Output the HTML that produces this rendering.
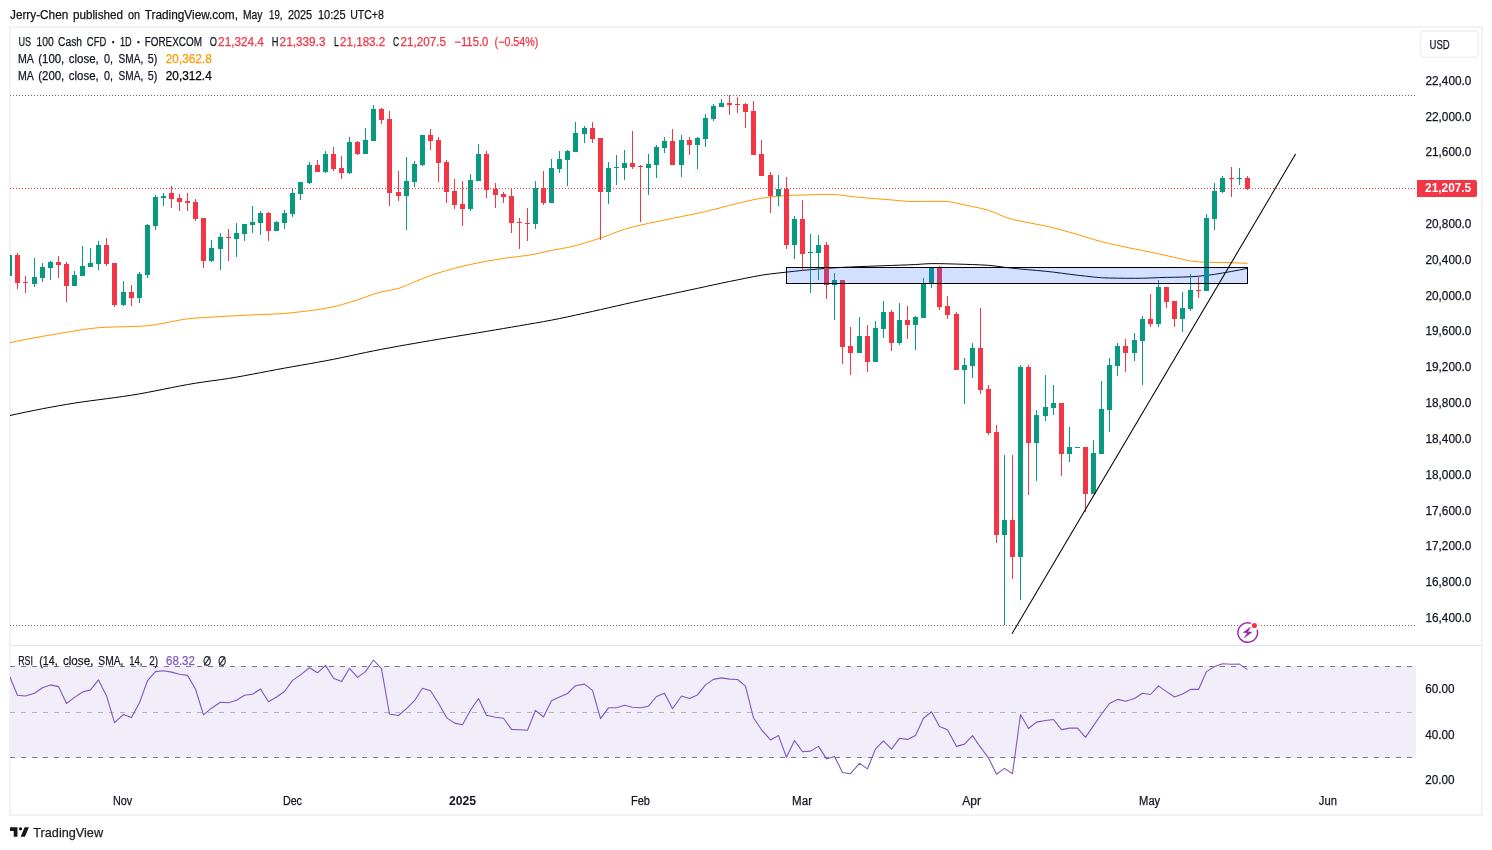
<!DOCTYPE html>
<html lang="en"><head><meta charset="utf-8"><title>US 100 Cash CFD chart</title>
<style>html,body{margin:0;padding:0;background:#fff;overflow:hidden}svg text{white-space:pre}</style></head>
<body>
<svg width="1492" height="850" viewBox="0 0 1492 850" font-family="'Liberation Sans','DejaVu Sans',sans-serif" style="display:block">
<rect width="1492" height="850" fill="#fff"/>
<rect x="10" y="27" width="1472" height="788" fill="none" stroke="#f2f2f3" stroke-width="2"/>
<defs><clipPath id="plot"><rect x="10" y="28" width="1406" height="786"/></clipPath></defs>
<rect x="11" y="645" width="1470" height="1" fill="#e0e3eb"/>
<rect x="10" y="666" width="1406" height="92" fill="#F2EEF9"/>
<line x1="10" y1="666.5" x2="1415" y2="666.5" stroke="#787B86" stroke-width="1" stroke-dasharray="5 6" shape-rendering="crispEdges"/>
<line x1="10" y1="712.5" x2="1415" y2="712.5" stroke="#b4b6bd" stroke-width="1" stroke-dasharray="5 6" shape-rendering="crispEdges"/>
<line x1="10" y1="757.5" x2="1415" y2="757.5" stroke="#787B86" stroke-width="1" stroke-dasharray="5 6" shape-rendering="crispEdges"/>
<polyline points="9.5,676.0 17.5,695.2 25.5,696.0 34.5,693.2 42.5,687.7 50.5,684.9 58.5,686.6 66.5,703.5 74.5,697.4 82.5,692.0 90.5,689.9 98.5,679.9 106.5,695.7 114.5,722.6 123.5,714.5 131.5,717.6 139.5,702.7 147.5,680.7 155.5,671.6 163.5,670.8 171.5,672.1 179.5,674.3 187.5,675.4 195.5,689.0 203.5,714.8 211.5,708.2 220.5,702.3 228.5,702.8 236.5,700.2 244.5,695.2 252.5,694.2 260.5,689.0 268.5,701.8 276.5,697.0 284.5,691.5 292.5,680.4 300.5,674.9 309.5,667.8 317.5,672.8 325.5,665.4 333.5,678.2 341.5,681.6 349.5,668.3 357.5,677.4 365.5,671.6 373.5,660.0 381.5,668.8 389.5,714.0 398.5,715.5 406.5,708.7 414.5,700.7 422.5,688.2 430.5,690.7 438.5,703.2 446.5,717.6 454.5,723.1 462.5,724.8 470.5,710.3 478.5,698.5 486.5,715.3 495.5,717.2 503.5,718.3 511.5,729.4 519.5,729.8 527.5,730.3 535.5,710.3 543.5,717.0 551.5,700.7 559.5,696.9 567.5,693.5 575.5,685.7 584.5,684.1 592.5,690.4 600.5,718.6 608.5,707.8 616.5,707.7 624.5,705.3 632.5,707.3 640.5,707.8 648.5,706.2 656.5,696.5 664.5,693.2 672.5,708.7 681.5,696.0 689.5,698.5 697.5,694.9 705.5,684.9 713.5,679.4 721.5,677.9 729.5,679.1 737.5,679.5 745.5,686.2 753.5,717.8 761.5,729.8 770.5,739.9 778.5,735.6 786.5,757.2 794.5,740.6 802.5,751.7 810.5,751.1 818.5,746.4 826.5,758.9 834.5,756.4 842.5,772.5 850.5,773.7 859.5,763.4 867.5,768.9 875.5,748.9 883.5,740.8 891.5,749.2 899.5,738.3 907.5,739.4 915.5,735.4 923.5,718.2 931.5,711.8 939.5,726.5 947.5,729.8 956.5,746.4 964.5,744.1 972.5,735.6 980.5,747.2 988.5,758.0 996.5,774.3 1004.5,768.4 1012.5,773.7 1020.5,714.5 1028.5,728.5 1036.5,722.1 1045.5,720.5 1053.5,719.5 1061.5,729.6 1069.5,728.1 1077.5,728.1 1085.5,737.4 1093.5,725.6 1101.5,714.0 1109.5,703.5 1117.5,699.4 1125.5,701.2 1134.5,698.5 1142.5,693.2 1150.5,694.5 1158.5,685.9 1166.5,691.6 1174.5,697.0 1182.5,694.0 1190.5,689.4 1198.5,689.4 1206.5,671.6 1214.5,666.6 1222.5,663.8 1231.5,664.2 1239.5,664.1 1247.5,669.6" fill="none" stroke="#7E57C2" stroke-width="1.1" stroke-linejoin="round" clip-path="url(#plot)"/>
<polyline points="10.0,342.60 17.5,341.07 25.5,339.50 34.5,337.80 42.5,336.36 50.5,334.98 58.5,333.67 66.5,332.33 74.5,330.96 82.5,329.66 90.5,328.54 98.5,327.70 106.5,327.23 114.5,326.96 123.5,326.74 131.5,326.54 139.5,326.27 147.5,325.76 155.5,324.70 163.5,323.26 171.5,321.65 179.5,320.11 187.5,318.84 195.5,318.06 203.5,317.59 211.5,317.10 220.5,316.55 228.5,316.08 236.5,315.65 244.5,315.24 252.5,314.86 260.5,314.53 268.5,314.25 276.5,313.93 284.5,313.44 292.5,312.70 300.5,311.79 309.5,310.69 317.5,309.60 325.5,308.33 333.5,306.76 341.5,304.72 349.5,302.37 357.5,299.91 365.5,297.03 373.5,294.13 381.5,291.85 389.5,290.36 398.5,288.42 406.5,285.47 414.5,281.95 422.5,278.64 430.5,275.53 438.5,272.90 446.5,270.51 454.5,268.33 462.5,266.31 470.5,264.44 478.5,262.75 486.5,261.23 495.5,259.68 503.5,258.42 511.5,257.33 519.5,256.38 527.5,255.34 535.5,253.93 543.5,252.16 551.5,250.40 559.5,248.93 567.5,247.48 575.5,245.62 584.5,243.10 592.5,240.61 600.5,238.04 608.5,235.18 616.5,232.11 624.5,229.30 632.5,227.06 640.5,225.12 648.5,223.36 656.5,221.69 664.5,220.01 672.5,218.34 681.5,216.54 689.5,214.95 697.5,213.30 705.5,211.51 713.5,209.54 721.5,207.47 729.5,205.39 737.5,203.39 745.5,201.50 753.5,199.70 761.5,198.27 770.5,196.92 778.5,196.13 786.5,195.64 794.5,195.27 802.5,195.00 810.5,194.77 818.5,194.57 826.5,194.43 834.5,194.45 842.5,195.31 850.5,196.48 859.5,197.35 867.5,198.04 875.5,198.68 883.5,199.29 891.5,199.92 899.5,200.70 907.5,201.35 915.5,201.50 923.5,201.45 931.5,201.37 939.5,201.32 947.5,201.40 956.5,203.00 964.5,204.90 972.5,206.50 980.5,208.21 988.5,210.30 996.5,213.41 1004.5,216.87 1012.5,219.39 1020.5,221.10 1028.5,222.71 1036.5,224.24 1045.5,226.02 1053.5,227.83 1061.5,229.93 1069.5,232.18 1077.5,234.48 1085.5,236.95 1093.5,239.42 1101.5,241.64 1109.5,243.58 1117.5,245.38 1125.5,247.11 1134.5,248.93 1142.5,250.49 1150.5,252.10 1158.5,253.84 1166.5,255.62 1174.5,257.39 1182.5,259.30 1190.5,260.98 1198.5,261.87 1206.5,262.28 1214.5,262.38 1222.5,262.46 1231.5,262.67 1239.5,262.99 1247.5,263.40" fill="none" stroke="#FF9800" stroke-width="1.0" stroke-linejoin="round"/>
<polyline points="10.0,415.50 17.5,413.87 25.5,412.17 34.5,410.33 42.5,408.76 50.5,407.24 58.5,405.79 66.5,404.41 74.5,403.11 82.5,401.92 90.5,400.81 98.5,399.75 106.5,398.71 114.5,397.65 123.5,396.40 131.5,395.19 139.5,393.85 147.5,392.39 155.5,390.83 163.5,389.23 171.5,387.63 179.5,386.06 187.5,384.57 195.5,383.20 203.5,381.98 211.5,380.87 220.5,379.63 228.5,378.44 236.5,377.11 244.5,375.68 252.5,374.18 260.5,372.65 268.5,371.11 276.5,369.60 284.5,368.14 292.5,366.71 300.5,365.30 309.5,363.72 317.5,362.28 325.5,360.81 333.5,359.27 341.5,357.64 349.5,355.95 357.5,354.23 365.5,352.53 373.5,350.88 381.5,349.31 389.5,347.82 398.5,346.18 406.5,344.76 414.5,343.36 422.5,341.99 430.5,340.61 438.5,339.26 446.5,337.94 454.5,336.63 462.5,335.33 470.5,334.02 478.5,332.70 486.5,331.36 495.5,329.85 503.5,328.50 511.5,327.14 519.5,325.77 527.5,324.38 535.5,323.00 543.5,321.61 551.5,320.14 559.5,318.56 567.5,316.88 575.5,315.14 584.5,313.16 592.5,311.40 600.5,309.62 608.5,307.81 616.5,305.99 624.5,304.17 632.5,302.37 640.5,300.59 648.5,298.84 656.5,297.11 664.5,295.39 672.5,293.68 681.5,291.76 689.5,290.06 697.5,288.34 705.5,286.61 713.5,284.88 721.5,283.17 729.5,281.49 737.5,279.86 745.5,278.26 753.5,276.66 761.5,275.21 770.5,273.93 778.5,272.99 786.5,272.12 794.5,271.26 802.5,270.42 810.5,269.64 818.5,268.97 826.5,268.35 834.5,267.81 842.5,267.37 850.5,266.99 859.5,266.62 867.5,266.31 875.5,266.02 883.5,265.74 891.5,265.45 899.5,265.17 907.5,264.90 915.5,264.54 923.5,263.97 931.5,263.61 939.5,263.65 947.5,263.82 956.5,264.07 964.5,264.31 972.5,264.56 980.5,264.88 988.5,265.32 996.5,266.18 1004.5,267.31 1012.5,268.26 1020.5,269.03 1028.5,269.74 1036.5,270.44 1045.5,271.28 1053.5,272.15 1061.5,273.17 1069.5,274.24 1077.5,275.23 1085.5,276.11 1093.5,277.02 1101.5,277.74 1109.5,278.04 1117.5,278.16 1125.5,278.25 1134.5,278.30 1142.5,278.24 1150.5,277.97 1158.5,277.63 1166.5,277.40 1174.5,277.24 1182.5,277.06 1190.5,276.76 1198.5,276.19 1206.5,275.41 1214.5,274.37 1222.5,273.03 1231.5,271.45 1239.5,269.94 1247.5,268.30" fill="none" stroke="#000000" stroke-width="1.0" stroke-linejoin="round"/>
<g clip-path="url(#plot)" shape-rendering="crispEdges"><rect x="9" y="255" width="1" height="21" fill="#089981"/><rect x="7" y="255" width="5" height="21" fill="#089981"/><rect x="17" y="253" width="1" height="36" fill="#F23645"/><rect x="15" y="255" width="5" height="28" fill="#F23645"/><rect x="25" y="276" width="1" height="17" fill="#F23645"/><rect x="23" y="282" width="5" height="1" fill="#F23645"/><rect x="34" y="258" width="1" height="29" fill="#089981"/><rect x="32" y="277" width="5" height="7" fill="#089981"/><rect x="42" y="263" width="1" height="19" fill="#089981"/><rect x="40" y="267" width="5" height="11" fill="#089981"/><rect x="50" y="261" width="1" height="19" fill="#089981"/><rect x="48" y="262" width="5" height="6" fill="#089981"/><rect x="58" y="256" width="1" height="22" fill="#F23645"/><rect x="56" y="262" width="5" height="3" fill="#F23645"/><rect x="66" y="262" width="1" height="40" fill="#F23645"/><rect x="64" y="264" width="5" height="22" fill="#F23645"/><rect x="74" y="271" width="1" height="15" fill="#089981"/><rect x="72" y="275" width="5" height="11" fill="#089981"/><rect x="82" y="246" width="1" height="30" fill="#089981"/><rect x="80" y="266" width="5" height="10" fill="#089981"/><rect x="90" y="248" width="1" height="19" fill="#089981"/><rect x="88" y="263" width="5" height="4" fill="#089981"/><rect x="98" y="241" width="1" height="29" fill="#089981"/><rect x="96" y="245" width="5" height="19" fill="#089981"/><rect x="106" y="238" width="1" height="28" fill="#F23645"/><rect x="104" y="245" width="5" height="19" fill="#F23645"/><rect x="114" y="263" width="1" height="44" fill="#F23645"/><rect x="112" y="263" width="5" height="42" fill="#F23645"/><rect x="123" y="281" width="1" height="25" fill="#089981"/><rect x="121" y="292" width="5" height="13" fill="#089981"/><rect x="131" y="285" width="1" height="21" fill="#F23645"/><rect x="129" y="292" width="5" height="6" fill="#F23645"/><rect x="139" y="272" width="1" height="31" fill="#089981"/><rect x="137" y="274" width="5" height="24" fill="#089981"/><rect x="147" y="224" width="1" height="54" fill="#089981"/><rect x="145" y="225" width="5" height="50" fill="#089981"/><rect x="155" y="195" width="1" height="35" fill="#089981"/><rect x="153" y="197" width="5" height="29" fill="#089981"/><rect x="163" y="193" width="1" height="13" fill="#089981"/><rect x="161" y="196" width="5" height="2" fill="#089981"/><rect x="171" y="186" width="1" height="22" fill="#F23645"/><rect x="169" y="193" width="5" height="6" fill="#F23645"/><rect x="179" y="194" width="1" height="17" fill="#F23645"/><rect x="177" y="198" width="5" height="4" fill="#F23645"/><rect x="187" y="193" width="1" height="18" fill="#F23645"/><rect x="185" y="201" width="5" height="2" fill="#F23645"/><rect x="195" y="199" width="1" height="22" fill="#F23645"/><rect x="193" y="202" width="5" height="17" fill="#F23645"/><rect x="203" y="218" width="1" height="50" fill="#F23645"/><rect x="201" y="218" width="5" height="43" fill="#F23645"/><rect x="211" y="240" width="1" height="22" fill="#089981"/><rect x="209" y="248" width="5" height="13" fill="#089981"/><rect x="220" y="233" width="1" height="37" fill="#089981"/><rect x="218" y="237" width="5" height="12" fill="#089981"/><rect x="228" y="229" width="1" height="32" fill="#F23645"/><rect x="226" y="237" width="5" height="1" fill="#F23645"/><rect x="236" y="223" width="1" height="34" fill="#089981"/><rect x="234" y="233" width="5" height="6" fill="#089981"/><rect x="244" y="224" width="1" height="17" fill="#089981"/><rect x="242" y="224" width="5" height="10" fill="#089981"/><rect x="252" y="206" width="1" height="27" fill="#089981"/><rect x="250" y="222" width="5" height="3" fill="#089981"/><rect x="260" y="211" width="1" height="24" fill="#089981"/><rect x="258" y="213" width="5" height="10" fill="#089981"/><rect x="268" y="212" width="1" height="29" fill="#F23645"/><rect x="266" y="213" width="5" height="18" fill="#F23645"/><rect x="276" y="221" width="1" height="10" fill="#089981"/><rect x="274" y="222" width="5" height="9" fill="#089981"/><rect x="284" y="210" width="1" height="19" fill="#089981"/><rect x="282" y="213" width="5" height="10" fill="#089981"/><rect x="292" y="188" width="1" height="29" fill="#089981"/><rect x="290" y="193" width="5" height="21" fill="#089981"/><rect x="300" y="182" width="1" height="18" fill="#089981"/><rect x="298" y="182" width="5" height="12" fill="#089981"/><rect x="309" y="162" width="1" height="22" fill="#089981"/><rect x="307" y="165" width="5" height="18" fill="#089981"/><rect x="317" y="160" width="1" height="12" fill="#F23645"/><rect x="315" y="165" width="5" height="7" fill="#F23645"/><rect x="325" y="151" width="1" height="22" fill="#089981"/><rect x="323" y="154" width="5" height="18" fill="#089981"/><rect x="333" y="147" width="1" height="24" fill="#F23645"/><rect x="331" y="154" width="5" height="15" fill="#F23645"/><rect x="341" y="156" width="1" height="23" fill="#F23645"/><rect x="339" y="168" width="5" height="5" fill="#F23645"/><rect x="349" y="137" width="1" height="37" fill="#089981"/><rect x="347" y="142" width="5" height="31" fill="#089981"/><rect x="357" y="141" width="1" height="14" fill="#F23645"/><rect x="355" y="142" width="5" height="12" fill="#F23645"/><rect x="365" y="128" width="1" height="26" fill="#089981"/><rect x="363" y="140" width="5" height="14" fill="#089981"/><rect x="373" y="105" width="1" height="36" fill="#089981"/><rect x="371" y="109" width="5" height="32" fill="#089981"/><rect x="381" y="108" width="1" height="16" fill="#F23645"/><rect x="379" y="109" width="5" height="11" fill="#F23645"/><rect x="389" y="111" width="1" height="95" fill="#F23645"/><rect x="387" y="119" width="5" height="74" fill="#F23645"/><rect x="398" y="171" width="1" height="30" fill="#F23645"/><rect x="396" y="192" width="5" height="4" fill="#F23645"/><rect x="406" y="157" width="1" height="73" fill="#089981"/><rect x="404" y="181" width="5" height="15" fill="#089981"/><rect x="414" y="161" width="1" height="26" fill="#089981"/><rect x="412" y="164" width="5" height="18" fill="#089981"/><rect x="422" y="135" width="1" height="31" fill="#089981"/><rect x="420" y="135" width="5" height="30" fill="#089981"/><rect x="430" y="129" width="1" height="21" fill="#F23645"/><rect x="428" y="135" width="5" height="6" fill="#F23645"/><rect x="438" y="137" width="1" height="45" fill="#F23645"/><rect x="436" y="140" width="5" height="23" fill="#F23645"/><rect x="446" y="160" width="1" height="43" fill="#F23645"/><rect x="444" y="162" width="5" height="30" fill="#F23645"/><rect x="454" y="179" width="1" height="30" fill="#F23645"/><rect x="452" y="191" width="5" height="14" fill="#F23645"/><rect x="462" y="181" width="1" height="45" fill="#F23645"/><rect x="460" y="204" width="5" height="5" fill="#F23645"/><rect x="470" y="174" width="1" height="37" fill="#089981"/><rect x="468" y="180" width="5" height="29" fill="#089981"/><rect x="478" y="144" width="1" height="37" fill="#089981"/><rect x="476" y="154" width="5" height="27" fill="#089981"/><rect x="486" y="151" width="1" height="47" fill="#F23645"/><rect x="484" y="154" width="5" height="36" fill="#F23645"/><rect x="495" y="183" width="1" height="25" fill="#F23645"/><rect x="493" y="189" width="5" height="6" fill="#F23645"/><rect x="503" y="192" width="1" height="11" fill="#F23645"/><rect x="501" y="194" width="5" height="3" fill="#F23645"/><rect x="511" y="188" width="1" height="45" fill="#F23645"/><rect x="509" y="196" width="5" height="27" fill="#F23645"/><rect x="519" y="218" width="1" height="31" fill="#F23645"/><rect x="517" y="222" width="5" height="1" fill="#F23645"/><rect x="527" y="208" width="1" height="33" fill="#F23645"/><rect x="525" y="223" width="5" height="1" fill="#F23645"/><rect x="535" y="181" width="1" height="48" fill="#089981"/><rect x="533" y="188" width="5" height="36" fill="#089981"/><rect x="543" y="171" width="1" height="34" fill="#F23645"/><rect x="541" y="188" width="5" height="15" fill="#F23645"/><rect x="551" y="159" width="1" height="44" fill="#089981"/><rect x="549" y="168" width="5" height="35" fill="#089981"/><rect x="559" y="151" width="1" height="22" fill="#089981"/><rect x="557" y="159" width="5" height="10" fill="#089981"/><rect x="567" y="150" width="1" height="36" fill="#089981"/><rect x="565" y="151" width="5" height="9" fill="#089981"/><rect x="575" y="122" width="1" height="30" fill="#089981"/><rect x="573" y="133" width="5" height="19" fill="#089981"/><rect x="584" y="126" width="1" height="17" fill="#089981"/><rect x="582" y="128" width="5" height="6" fill="#089981"/><rect x="592" y="122" width="1" height="21" fill="#F23645"/><rect x="590" y="128" width="5" height="11" fill="#F23645"/><rect x="600" y="138" width="1" height="102" fill="#F23645"/><rect x="598" y="138" width="5" height="54" fill="#F23645"/><rect x="608" y="162" width="1" height="42" fill="#089981"/><rect x="606" y="168" width="5" height="24" fill="#089981"/><rect x="616" y="155" width="1" height="30" fill="#089981"/><rect x="614" y="167" width="5" height="1" fill="#089981"/><rect x="624" y="150" width="1" height="30" fill="#089981"/><rect x="622" y="163" width="5" height="5" fill="#089981"/><rect x="632" y="131" width="1" height="38" fill="#F23645"/><rect x="630" y="163" width="5" height="4" fill="#F23645"/><rect x="640" y="165" width="1" height="57" fill="#F23645"/><rect x="638" y="166" width="5" height="1" fill="#F23645"/><rect x="648" y="154" width="1" height="41" fill="#089981"/><rect x="646" y="164" width="5" height="4" fill="#089981"/><rect x="656" y="145" width="1" height="33" fill="#089981"/><rect x="654" y="147" width="5" height="18" fill="#089981"/><rect x="664" y="137" width="1" height="16" fill="#089981"/><rect x="662" y="141" width="5" height="7" fill="#089981"/><rect x="672" y="129" width="1" height="36" fill="#F23645"/><rect x="670" y="141" width="5" height="24" fill="#F23645"/><rect x="681" y="135" width="1" height="42" fill="#089981"/><rect x="679" y="140" width="5" height="25" fill="#089981"/><rect x="689" y="137" width="1" height="18" fill="#F23645"/><rect x="687" y="140" width="5" height="5" fill="#F23645"/><rect x="697" y="137" width="1" height="32" fill="#089981"/><rect x="695" y="138" width="5" height="7" fill="#089981"/><rect x="705" y="114" width="1" height="33" fill="#089981"/><rect x="703" y="118" width="5" height="21" fill="#089981"/><rect x="713" y="104" width="1" height="17" fill="#089981"/><rect x="711" y="106" width="5" height="13" fill="#089981"/><rect x="721" y="99" width="1" height="8" fill="#089981"/><rect x="719" y="103" width="5" height="4" fill="#089981"/><rect x="729" y="95" width="1" height="20" fill="#F23645"/><rect x="727" y="103" width="5" height="2" fill="#F23645"/><rect x="737" y="97" width="1" height="16" fill="#F23645"/><rect x="735" y="104" width="5" height="1" fill="#F23645"/><rect x="745" y="103" width="1" height="25" fill="#F23645"/><rect x="743" y="104" width="5" height="8" fill="#F23645"/><rect x="753" y="101" width="1" height="54" fill="#F23645"/><rect x="751" y="111" width="5" height="44" fill="#F23645"/><rect x="761" y="140" width="1" height="36" fill="#F23645"/><rect x="759" y="154" width="5" height="22" fill="#F23645"/><rect x="770" y="172" width="1" height="41" fill="#F23645"/><rect x="768" y="175" width="5" height="21" fill="#F23645"/><rect x="778" y="175" width="1" height="31" fill="#089981"/><rect x="776" y="189" width="5" height="7" fill="#089981"/><rect x="786" y="177" width="1" height="72" fill="#F23645"/><rect x="784" y="189" width="5" height="56" fill="#F23645"/><rect x="794" y="216" width="1" height="43" fill="#089981"/><rect x="792" y="219" width="5" height="26" fill="#089981"/><rect x="802" y="200" width="1" height="71" fill="#F23645"/><rect x="800" y="219" width="5" height="35" fill="#F23645"/><rect x="810" y="234" width="1" height="59" fill="#089981"/><rect x="808" y="252" width="5" height="1" fill="#089981"/><rect x="818" y="235" width="1" height="45" fill="#089981"/><rect x="816" y="245" width="5" height="8" fill="#089981"/><rect x="826" y="242" width="1" height="57" fill="#F23645"/><rect x="824" y="245" width="5" height="40" fill="#F23645"/><rect x="834" y="273" width="1" height="47" fill="#089981"/><rect x="832" y="280" width="5" height="5" fill="#089981"/><rect x="842" y="280" width="1" height="84" fill="#F23645"/><rect x="840" y="280" width="5" height="67" fill="#F23645"/><rect x="850" y="327" width="1" height="48" fill="#F23645"/><rect x="848" y="346" width="5" height="7" fill="#F23645"/><rect x="859" y="317" width="1" height="36" fill="#089981"/><rect x="857" y="336" width="5" height="17" fill="#089981"/><rect x="867" y="325" width="1" height="47" fill="#F23645"/><rect x="865" y="336" width="5" height="26" fill="#F23645"/><rect x="875" y="321" width="1" height="41" fill="#089981"/><rect x="873" y="328" width="5" height="34" fill="#089981"/><rect x="883" y="301" width="1" height="37" fill="#089981"/><rect x="881" y="312" width="5" height="17" fill="#089981"/><rect x="891" y="310" width="1" height="41" fill="#F23645"/><rect x="889" y="312" width="5" height="31" fill="#F23645"/><rect x="899" y="303" width="1" height="42" fill="#089981"/><rect x="897" y="320" width="5" height="23" fill="#089981"/><rect x="907" y="306" width="1" height="33" fill="#F23645"/><rect x="905" y="320" width="5" height="5" fill="#F23645"/><rect x="915" y="316" width="1" height="34" fill="#089981"/><rect x="913" y="317" width="5" height="8" fill="#089981"/><rect x="923" y="278" width="1" height="40" fill="#089981"/><rect x="921" y="284" width="5" height="34" fill="#089981"/><rect x="931" y="267" width="1" height="21" fill="#089981"/><rect x="929" y="268" width="5" height="15" fill="#089981"/><rect x="939" y="266" width="1" height="44" fill="#F23645"/><rect x="937" y="268" width="5" height="39" fill="#F23645"/><rect x="947" y="296" width="1" height="23" fill="#F23645"/><rect x="945" y="306" width="5" height="9" fill="#F23645"/><rect x="956" y="312" width="1" height="58" fill="#F23645"/><rect x="954" y="314" width="5" height="56" fill="#F23645"/><rect x="964" y="358" width="1" height="46" fill="#089981"/><rect x="962" y="365" width="5" height="5" fill="#089981"/><rect x="972" y="343" width="1" height="35" fill="#089981"/><rect x="970" y="348" width="5" height="18" fill="#089981"/><rect x="980" y="308" width="1" height="86" fill="#F23645"/><rect x="978" y="348" width="5" height="42" fill="#F23645"/><rect x="988" y="385" width="1" height="50" fill="#F23645"/><rect x="986" y="389" width="5" height="44" fill="#F23645"/><rect x="996" y="425" width="1" height="118" fill="#F23645"/><rect x="994" y="432" width="5" height="103" fill="#F23645"/><rect x="1004" y="455" width="1" height="170" fill="#089981"/><rect x="1002" y="520" width="5" height="15" fill="#089981"/><rect x="1012" y="455" width="1" height="124" fill="#F23645"/><rect x="1010" y="520" width="5" height="37" fill="#F23645"/><rect x="1020" y="365" width="1" height="235" fill="#089981"/><rect x="1018" y="367" width="5" height="190" fill="#089981"/><rect x="1028" y="365" width="1" height="130" fill="#F23645"/><rect x="1026" y="367" width="5" height="76" fill="#F23645"/><rect x="1036" y="410" width="1" height="71" fill="#089981"/><rect x="1034" y="415" width="5" height="28" fill="#089981"/><rect x="1045" y="375" width="1" height="46" fill="#089981"/><rect x="1043" y="407" width="5" height="9" fill="#089981"/><rect x="1053" y="385" width="1" height="30" fill="#089981"/><rect x="1051" y="403" width="5" height="5" fill="#089981"/><rect x="1061" y="403" width="1" height="73" fill="#F23645"/><rect x="1059" y="403" width="5" height="51" fill="#F23645"/><rect x="1069" y="427" width="1" height="35" fill="#089981"/><rect x="1067" y="447" width="5" height="7" fill="#089981"/><rect x="1077" y="447" width="1" height="1" fill="#089981"/><rect x="1075" y="447" width="5" height="1" fill="#089981"/><rect x="1085" y="447" width="1" height="65" fill="#F23645"/><rect x="1083" y="447" width="5" height="47" fill="#F23645"/><rect x="1093" y="440" width="1" height="54" fill="#089981"/><rect x="1091" y="453" width="5" height="41" fill="#089981"/><rect x="1101" y="381" width="1" height="73" fill="#089981"/><rect x="1099" y="409" width="5" height="45" fill="#089981"/><rect x="1109" y="358" width="1" height="74" fill="#089981"/><rect x="1107" y="365" width="5" height="45" fill="#089981"/><rect x="1117" y="343" width="1" height="33" fill="#089981"/><rect x="1115" y="346" width="5" height="20" fill="#089981"/><rect x="1125" y="339" width="1" height="33" fill="#F23645"/><rect x="1123" y="346" width="5" height="7" fill="#F23645"/><rect x="1134" y="333" width="1" height="28" fill="#089981"/><rect x="1132" y="340" width="5" height="13" fill="#089981"/><rect x="1142" y="316" width="1" height="69" fill="#089981"/><rect x="1140" y="319" width="5" height="22" fill="#089981"/><rect x="1150" y="294" width="1" height="33" fill="#F23645"/><rect x="1148" y="319" width="5" height="5" fill="#F23645"/><rect x="1158" y="280" width="1" height="47" fill="#089981"/><rect x="1156" y="287" width="5" height="37" fill="#089981"/><rect x="1166" y="287" width="1" height="21" fill="#F23645"/><rect x="1164" y="287" width="5" height="15" fill="#F23645"/><rect x="1174" y="301" width="1" height="26" fill="#F23645"/><rect x="1172" y="301" width="5" height="18" fill="#F23645"/><rect x="1182" y="292" width="1" height="40" fill="#089981"/><rect x="1180" y="308" width="5" height="11" fill="#089981"/><rect x="1190" y="274" width="1" height="37" fill="#089981"/><rect x="1188" y="290" width="5" height="19" fill="#089981"/><rect x="1198" y="277" width="1" height="21" fill="#F23645"/><rect x="1196" y="290" width="5" height="1" fill="#F23645"/><rect x="1206" y="214" width="1" height="77" fill="#089981"/><rect x="1204" y="218" width="5" height="73" fill="#089981"/><rect x="1214" y="183" width="1" height="47" fill="#089981"/><rect x="1212" y="191" width="5" height="28" fill="#089981"/><rect x="1222" y="176" width="1" height="17" fill="#089981"/><rect x="1220" y="178" width="5" height="14" fill="#089981"/><rect x="1231" y="167" width="1" height="30" fill="#F23645"/><rect x="1229" y="178" width="5" height="1" fill="#F23645"/><rect x="1239" y="168" width="1" height="17" fill="#089981"/><rect x="1237" y="178" width="5" height="1" fill="#089981"/><rect x="1247" y="176" width="1" height="14" fill="#F23645"/><rect x="1245" y="178" width="5" height="11" fill="#F23645"/></g>
<line x1="10" y1="95.5" x2="1416" y2="95.5" stroke="#707070" stroke-width="1" stroke-dasharray="1 2" shape-rendering="crispEdges"/>
<line x1="10" y1="625.5" x2="1416" y2="625.5" stroke="#707070" stroke-width="1" stroke-dasharray="1 2" shape-rendering="crispEdges"/>
<line x1="10" y1="188.5" x2="1416" y2="188.5" stroke="#F23645" stroke-width="1" stroke-dasharray="1 2" shape-rendering="crispEdges"/>
<rect x="786.5" y="267.5" width="461" height="16" fill="rgba(41,98,255,0.2)" stroke="#000" stroke-width="1"/>
<line x1="1012" y1="633.7" x2="1295.6" y2="154" stroke="#000" stroke-width="1.05"/>
<rect x="1238" y="621.5" width="20.7" height="22" rx="5" fill="#fff"/>
<g fill="none" stroke="#9C27B0" stroke-width="1.45" stroke-linecap="round"><path d="M1250.6,623.15 A9.8,9.8 0 1 0 1257.25,630.3"/></g>
<path d="M1250.5,627.1 L1243.2,632.5 L1247.4,633 L1244.2,637.9 L1251.8,632.25 L1247.8,631.75 Z" fill="#9C27B0" stroke="#9C27B0" stroke-width="0.5" stroke-linejoin="round"/>
<circle cx="1254.4" cy="625.5" r="2.55" fill="#F23645"/>
<path d="M1417,180 h58 a2,2 0 0 1 2,2 v13 a2,2 0 0 1 -2,2 h-58 z" fill="#F23645"/>
<text x="1425.10" y="192.00" font-size="12.3" fill="#fff" stroke="#fff" stroke-width="0" font-weight="700" textLength="46.10" lengthAdjust="spacingAndGlyphs">21,207.5</text>
<rect x="1420.3" y="30.9" width="57.9" height="26.3" rx="4.2" fill="#fff" stroke="#f1f1f3" stroke-width="1.6"/>
<text x="1429.60" y="48.70" font-size="11.9" fill="#131722" stroke="#131722" stroke-width="0.25" textLength="20.10" lengthAdjust="spacingAndGlyphs">USD</text>
<text x="1425.40" y="85.00" font-size="12.3" fill="#131722" stroke="#131722" stroke-width="0.25" textLength="46.00" lengthAdjust="spacingAndGlyphs">22,400.0</text>
<text x="1425.40" y="121.00" font-size="12.3" fill="#131722" stroke="#131722" stroke-width="0.25" textLength="46.00" lengthAdjust="spacingAndGlyphs">22,000.0</text>
<text x="1425.40" y="156.00" font-size="12.3" fill="#131722" stroke="#131722" stroke-width="0.25" textLength="46.00" lengthAdjust="spacingAndGlyphs">21,600.0</text>
<text x="1425.40" y="228.00" font-size="12.3" fill="#131722" stroke="#131722" stroke-width="0.25" textLength="46.00" lengthAdjust="spacingAndGlyphs">20,800.0</text>
<text x="1425.40" y="264.00" font-size="12.3" fill="#131722" stroke="#131722" stroke-width="0.25" textLength="46.00" lengthAdjust="spacingAndGlyphs">20,400.0</text>
<text x="1425.40" y="300.00" font-size="12.3" fill="#131722" stroke="#131722" stroke-width="0.25" textLength="46.00" lengthAdjust="spacingAndGlyphs">20,000.0</text>
<text x="1425.40" y="335.00" font-size="12.3" fill="#131722" stroke="#131722" stroke-width="0.25" textLength="46.00" lengthAdjust="spacingAndGlyphs">19,600.0</text>
<text x="1425.40" y="371.00" font-size="12.3" fill="#131722" stroke="#131722" stroke-width="0.25" textLength="46.00" lengthAdjust="spacingAndGlyphs">19,200.0</text>
<text x="1425.40" y="407.00" font-size="12.3" fill="#131722" stroke="#131722" stroke-width="0.25" textLength="46.00" lengthAdjust="spacingAndGlyphs">18,800.0</text>
<text x="1425.40" y="443.00" font-size="12.3" fill="#131722" stroke="#131722" stroke-width="0.25" textLength="46.00" lengthAdjust="spacingAndGlyphs">18,400.0</text>
<text x="1425.40" y="479.00" font-size="12.3" fill="#131722" stroke="#131722" stroke-width="0.25" textLength="46.00" lengthAdjust="spacingAndGlyphs">18,000.0</text>
<text x="1425.40" y="515.00" font-size="12.3" fill="#131722" stroke="#131722" stroke-width="0.25" textLength="46.00" lengthAdjust="spacingAndGlyphs">17,600.0</text>
<text x="1425.40" y="550.00" font-size="12.3" fill="#131722" stroke="#131722" stroke-width="0.25" textLength="46.00" lengthAdjust="spacingAndGlyphs">17,200.0</text>
<text x="1425.40" y="586.00" font-size="12.3" fill="#131722" stroke="#131722" stroke-width="0.25" textLength="46.00" lengthAdjust="spacingAndGlyphs">16,800.0</text>
<text x="1425.40" y="622.00" font-size="12.3" fill="#131722" stroke="#131722" stroke-width="0.25" textLength="46.00" lengthAdjust="spacingAndGlyphs">16,400.0</text>
<text x="1425.20" y="693.00" font-size="12.3" fill="#131722" stroke="#131722" stroke-width="0.25" textLength="29.31" lengthAdjust="spacingAndGlyphs">60.00</text>
<text x="1425.20" y="739.00" font-size="12.3" fill="#131722" stroke="#131722" stroke-width="0.25" textLength="29.31" lengthAdjust="spacingAndGlyphs">40.00</text>
<text x="1425.20" y="784.40" font-size="12.3" fill="#131722" stroke="#131722" stroke-width="0.25" textLength="29.31" lengthAdjust="spacingAndGlyphs">20.00</text>
<text x="112.90" y="805.00" font-size="12.3" fill="#131722" stroke="#131722" stroke-width="0.25" textLength="19.30" lengthAdjust="spacingAndGlyphs">Nov</text>
<text x="282.90" y="805.00" font-size="12.3" fill="#131722" stroke="#131722" stroke-width="0.25" textLength="19.10" lengthAdjust="spacingAndGlyphs">Dec</text>
<text x="448.90" y="805.00" font-size="12.3" fill="#131722" stroke="#131722" stroke-width="0" font-weight="700" textLength="27.10" lengthAdjust="spacingAndGlyphs">2025</text>
<text x="630.90" y="805.00" font-size="12.3" fill="#131722" stroke="#131722" stroke-width="0.25" textLength="19.10" lengthAdjust="spacingAndGlyphs">Feb</text>
<text x="792.10" y="805.00" font-size="12.3" fill="#131722" stroke="#131722" stroke-width="0.25" textLength="19.90" lengthAdjust="spacingAndGlyphs">Mar</text>
<text x="962.30" y="805.00" font-size="12.3" fill="#131722" stroke="#131722" stroke-width="0.25" textLength="18.70" lengthAdjust="spacingAndGlyphs">Apr</text>
<text x="1139.10" y="805.00" font-size="12.3" fill="#131722" stroke="#131722" stroke-width="0.25" textLength="21.10" lengthAdjust="spacingAndGlyphs">May</text>
<text x="1318.80" y="805.00" font-size="12.3" fill="#131722" stroke="#131722" stroke-width="0.25" textLength="18.10" lengthAdjust="spacingAndGlyphs">Jun</text>
<text y="18.90" font-size="12.4" fill="#161616" stroke="#161616" stroke-width="0.25"><tspan x="10.00" textLength="58.30" lengthAdjust="spacingAndGlyphs">Jerry-Chen</tspan><tspan> </tspan><tspan x="73.00" textLength="50.00" lengthAdjust="spacingAndGlyphs">published</tspan><tspan> </tspan><tspan x="128.00" textLength="12.00" lengthAdjust="spacingAndGlyphs">on</tspan><tspan> </tspan><tspan x="144.70" textLength="93.30" lengthAdjust="spacingAndGlyphs">TradingView.com,</tspan><tspan> </tspan><tspan x="242.90" textLength="19.50" lengthAdjust="spacingAndGlyphs">May</tspan><tspan> </tspan><tspan x="269.10" textLength="13.40" lengthAdjust="spacingAndGlyphs">19,</tspan><tspan> </tspan><tspan x="287.90" textLength="24.10" lengthAdjust="spacingAndGlyphs">2025</tspan><tspan> </tspan><tspan x="318.00" textLength="27.50" lengthAdjust="spacingAndGlyphs">10:25</tspan><tspan> </tspan><tspan x="350.20" textLength="33.70" lengthAdjust="spacingAndGlyphs">UTC+8</tspan></text>
<text y="46.00" font-size="12" fill="#131722" stroke="#131722" stroke-width="0.25"><tspan x="18.50" textLength="12.60" lengthAdjust="spacingAndGlyphs">US</tspan><tspan> </tspan><tspan x="36.60" textLength="17.20" lengthAdjust="spacingAndGlyphs">100</tspan><tspan> </tspan><tspan x="58.10" textLength="23.90" lengthAdjust="spacingAndGlyphs">Cash</tspan><tspan> </tspan><tspan x="86.80" textLength="19.50" lengthAdjust="spacingAndGlyphs">CFD</tspan><tspan> </tspan><tspan x="111.50" font-weight="700">·</tspan><tspan> </tspan><tspan x="119.90" textLength="11.70" lengthAdjust="spacingAndGlyphs">1D</tspan><tspan> </tspan><tspan x="136.70" font-weight="700">·</tspan><tspan> </tspan><tspan x="144.70" textLength="57.30" lengthAdjust="spacingAndGlyphs">FOREXCOM</tspan></text>
<text x="209.70" y="46.00" font-size="12" fill="#131722" stroke="#131722" stroke-width="0.25" textLength="7.20" lengthAdjust="spacingAndGlyphs">O</text>
<text x="218.10" y="46.00" font-size="12" fill="#F23645" stroke="#F23645" stroke-width="0.25" textLength="45.80" lengthAdjust="spacingAndGlyphs">21,324.4</text>
<text x="271.70" y="46.00" font-size="12" fill="#131722" stroke="#131722" stroke-width="0.25" textLength="6.70" lengthAdjust="spacingAndGlyphs">H</text>
<text x="279.60" y="46.00" font-size="12" fill="#F23645" stroke="#F23645" stroke-width="0.25" textLength="45.90" lengthAdjust="spacingAndGlyphs">21,339.3</text>
<text x="333.90" y="46.00" font-size="12" fill="#131722" stroke="#131722" stroke-width="0.25" textLength="4.90" lengthAdjust="spacingAndGlyphs">L</text>
<text x="340.00" y="46.00" font-size="12" fill="#F23645" stroke="#F23645" stroke-width="0.25" textLength="45.30" lengthAdjust="spacingAndGlyphs">21,183.2</text>
<text x="393.00" y="46.00" font-size="12" fill="#131722" stroke="#131722" stroke-width="0.25" textLength="6.10" lengthAdjust="spacingAndGlyphs">C</text>
<text x="400.60" y="46.00" font-size="12" fill="#F23645" stroke="#F23645" stroke-width="0.25" textLength="45.30" lengthAdjust="spacingAndGlyphs">21,207.5</text>
<text y="46.00" font-size="12" fill="#F23645" stroke="#F23645" stroke-width="0.25"><tspan x="454.30" textLength="34.10" lengthAdjust="spacingAndGlyphs">−115.0</tspan><tspan> </tspan><tspan x="494.60" textLength="43.81" lengthAdjust="spacingAndGlyphs">(−0.54%)</tspan></text>
<text y="62.80" font-size="12" fill="#131722" stroke="#131722" stroke-width="0.25"><tspan x="18.00" textLength="15.30" lengthAdjust="spacingAndGlyphs">MA</tspan><tspan> </tspan><tspan x="38.30" textLength="26.00" lengthAdjust="spacingAndGlyphs">(100,</tspan><tspan> </tspan><tspan x="68.80" textLength="29.90" lengthAdjust="spacingAndGlyphs">close,</tspan><tspan> </tspan><tspan x="104.00" textLength="9.00" lengthAdjust="spacingAndGlyphs">0,</tspan><tspan> </tspan><tspan x="118.60" textLength="24.60" lengthAdjust="spacingAndGlyphs">SMA,</tspan><tspan> </tspan><tspan x="147.70" textLength="9.60" lengthAdjust="spacingAndGlyphs">5)</tspan></text>
<text x="165.80" y="62.80" font-size="12" fill="#FF9800" stroke="#FF9800" stroke-width="0.25" textLength="45.90" lengthAdjust="spacingAndGlyphs">20,362.8</text>
<text y="79.70" font-size="12" fill="#131722" stroke="#131722" stroke-width="0.25"><tspan x="18.00" textLength="15.30" lengthAdjust="spacingAndGlyphs">MA</tspan><tspan> </tspan><tspan x="38.30" textLength="26.00" lengthAdjust="spacingAndGlyphs">(200,</tspan><tspan> </tspan><tspan x="68.80" textLength="29.90" lengthAdjust="spacingAndGlyphs">close,</tspan><tspan> </tspan><tspan x="104.00" textLength="9.00" lengthAdjust="spacingAndGlyphs">0,</tspan><tspan> </tspan><tspan x="118.60" textLength="24.60" lengthAdjust="spacingAndGlyphs">SMA,</tspan><tspan> </tspan><tspan x="147.70" textLength="9.60" lengthAdjust="spacingAndGlyphs">5)</tspan></text>
<text x="165.80" y="79.70" font-size="12" fill="#000" stroke="#000" stroke-width="0.25" textLength="45.90" lengthAdjust="spacingAndGlyphs">20,312.4</text>
<text y="665.00" font-size="12" fill="#131722" stroke="#131722" stroke-width="0.25"><tspan x="18.20" textLength="14.70" lengthAdjust="spacingAndGlyphs">RSI</tspan><tspan> </tspan><tspan x="39.30" textLength="18.40" lengthAdjust="spacingAndGlyphs">(14,</tspan><tspan> </tspan><tspan x="62.90" textLength="30.50" lengthAdjust="spacingAndGlyphs">close,</tspan><tspan> </tspan><tspan x="98.30" textLength="25.10" lengthAdjust="spacingAndGlyphs">SMA,</tspan><tspan> </tspan><tspan x="129.30" textLength="13.20" lengthAdjust="spacingAndGlyphs">14,</tspan><tspan> </tspan><tspan x="149.20" textLength="8.80" lengthAdjust="spacingAndGlyphs">2)</tspan></text>
<text x="166.10" y="665.00" font-size="12" fill="#7E57C2" stroke="#7E57C2" stroke-width="0.25" textLength="28.81" lengthAdjust="spacingAndGlyphs">68.32</text>
<text transform="translate(202.6,665.8) scale(0.78,1)" font-size="12" fill="#131722" stroke="#131722" stroke-width="0.4" font-family="'Noto Sans CJK SC','DejaVu Sans',sans-serif">∅</text>
<text transform="translate(217.6,665.8) scale(0.78,1)" font-size="12" fill="#131722" stroke="#131722" stroke-width="0.4" font-family="'Noto Sans CJK SC','DejaVu Sans',sans-serif">∅</text>
<g transform="translate(10,825.07) scale(0.533)" fill="#161616"><path d="M14 22H7V11H0V4h14v18zM28 22h-8l7.5-18h8L28 22z"/><circle cx="19.8" cy="7" r="3.1"/></g>
<text x="33.30" y="836.80" font-size="13" fill="#1e1e1e" stroke="#1e1e1e" stroke-width="0.25" textLength="69.76" lengthAdjust="spacingAndGlyphs">TradingView</text>
</svg>
</body></html>
